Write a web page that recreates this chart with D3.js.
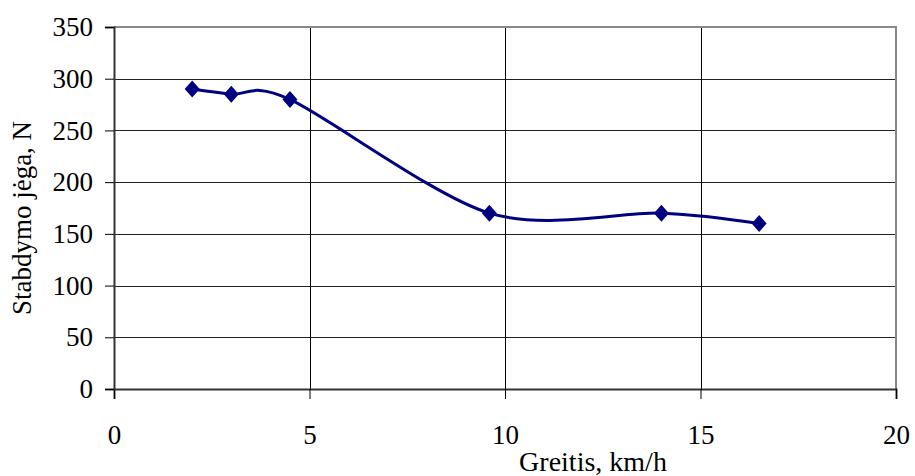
<!DOCTYPE html>
<meta charset="utf-8">
<style>
body { margin: 0; background: #fff; }
text { font-family: "Liberation Serif", "Times New Roman", serif; fill: #000; }
</style>
<body>
<script src="https://d3js.org/d3.v7.min.js"></script>
<script>
var speed = [2, 3, 4.5, 9.6, 14, 16.5];
var force = [290, 285, 280, 170, 170, 160];
var xTicks = [0, 5, 10, 15, 20];
var yTicks = [0, 50, 100, 150, 200, 250, 300, 350];

var width = 915,
    height = 476,
    margin = {top: 27, right: 19, bottom: 87, left: 114};

var svg = d3.select("body").append("svg")
    .attr("width", width)
    .attr("height", height);

var x = d3.scaleLinear().domain([0, 20]).range([margin.left, width - margin.right]);
var y = d3.scaleLinear().domain([0, 350]).range([height - margin.bottom, margin.top]);

// horizontal gridlines
svg.append("g").selectAll("line")
    .data(yTicks.slice(1, -1))
  .enter().append("line")
    .attr("x1", x(0)).attr("x2", x(20))
    .attr("y1", d => Math.round(y(d)) + 0.5).attr("y2", d => Math.round(y(d)) + 0.5)
    .attr("stroke", "#222").attr("stroke-width", 1);

// vertical gridlines
svg.append("g").selectAll("line")
    .data(xTicks.slice(1, -1))
  .enter().append("line")
    .attr("x1", d => Math.round(x(d)) + 0.5).attr("x2", d => Math.round(x(d)) + 0.5)
    .attr("y1", y(350)).attr("y2", y(0))
    .attr("stroke", "#000").attr("stroke-width", 1);

// plot border top/right
svg.append("path")
    .attr("d", "M" + x(0) + "," + y(350) + "H" + x(20) + "V" + y(0))
    .attr("fill", "none").attr("stroke", "#888").attr("stroke-width", 2);

// axes
var xAxis = svg.append("g")
    .attr("transform", "translate(0," + y(0) + ")")
    .call(d3.axisBottom(x).tickValues(xTicks).tickSize(10).tickPadding(26));
var yAxis = svg.append("g")
    .attr("transform", "translate(" + x(0) + ",0)")
    .call(d3.axisLeft(y).tickValues(yTicks).tickSize(9).tickPadding(12));

[xAxis, yAxis].forEach(function(a) {
  a.select(".domain").attr("stroke", "#333").attr("stroke-width", 2);
  a.selectAll(".tick line").attr("stroke", "#000");
  a.selectAll("text").style("font-size", "27px").attr("fill", "#000");
});

// series line
var line = d3.line()
    .x((d, i) => x(speed[i]))
    .y(d => y(d))
    .curve(d3.curveCardinal.tension(0.1));

svg.append("path")
    .datum(force)
    .attr("d", line)
    .attr("fill", "none")
    .attr("stroke", "#000080")
    .attr("stroke-width", 3);

// diamond markers
svg.append("g").selectAll("path")
    .data(force)
  .enter().append("path")
    .attr("d", "M0,-8.5L7.5,0L0,8.5L-7.5,0Z")
    .attr("transform", (d, i) => "translate(" + x(speed[i]) + "," + y(d) + ")")
    .attr("fill", "#000080");

// axis titles
svg.append("text")
    .attr("x", 593)
    .attr("y", 471)
    .attr("text-anchor", "middle")
    .style("font-size", "28px")
    .text("Greitis, km/h");

svg.append("text")
    .attr("transform", "translate(31,218) rotate(-90)")
    .attr("text-anchor", "middle")
    .style("font-size", "27px")
    .text("Stabdymo jėga, N");
</script>
</body>
</html>
